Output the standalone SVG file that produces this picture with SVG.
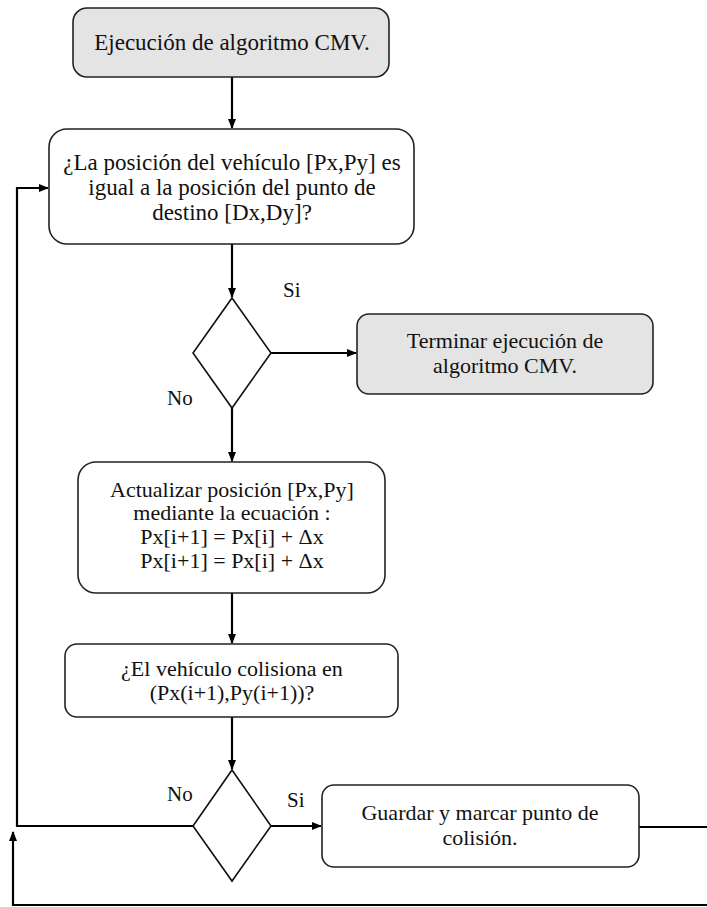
<svg xmlns="http://www.w3.org/2000/svg" width="707" height="907" viewBox="0 0 707 907">
<defs>
<marker id="ah" markerWidth="10" markerHeight="10" refX="9" refY="5" orient="auto" markerUnits="userSpaceOnUse">
<path d="M0,1 L10,5 L0,9 Z" fill="#000"/>
</marker>
<style>
.box{fill:#fff;stroke:#222;stroke-width:1.6}
.grey{fill:#e4e4e4}
.dia{fill:#fff;stroke:#111;stroke-width:1.6}
.t{font-size:22px;fill:#111;text-anchor:middle}
.big{font-size:23px}
.lbl{font-size:21px;fill:#111}
.c{fill:none;stroke:#000;stroke-width:2.2}
</style>
</defs>
<rect width="707" height="907" fill="#fff"/>
<g id="connectors">
<path class="c" d="M232,77 V128" marker-end="url(#ah)"/>
<path class="c" d="M232,244 V297" marker-end="url(#ah)"/>
<path class="c" d="M271,353 H356" marker-end="url(#ah)"/>
<path class="c" d="M232,408 V461" marker-end="url(#ah)"/>
<path class="c" d="M232,593 V643" marker-end="url(#ah)"/>
<path class="c" d="M232,717 V769" marker-end="url(#ah)"/>
<path class="c" d="M271,826 H321" marker-end="url(#ah)"/>
<path class="c" d="M193,826 H17 V188 H48" marker-end="url(#ah)"/>
<path class="c" d="M639,827 H707"/>
<path class="c" d="M707,905 H13 V832" marker-end="url(#ah)"/>
</g>
<g font-family="'Liberation Serif', 'DejaVu Serif', serif">
<g id="n1">
<rect class="box grey" x="73" y="8" width="316" height="69" rx="14"/>
<text class="t big" x="232" y="50">Ejecución de algoritmo CMV.</text>
</g>
<g id="n2">
<rect class="box" x="49" y="129" width="365" height="115" rx="18"/>
<text class="t big" x="232" y="170">¿La posición del vehículo [Px,Py] es</text>
<text class="t big" x="232" y="195">igual a la posición del punto de</text>
<text class="t big" x="232" y="220">destino [Dx,Dy]?</text>
</g>
<g id="d1">
<polygon class="dia" points="232,298 271,353 232,408 193,353"/>
<text class="lbl" x="283" y="297">Si</text>
<text class="lbl" x="167" y="405">No</text>
</g>
<g id="n3">
<rect class="box grey" x="357" y="314" width="296" height="80" rx="12"/>
<text class="t" x="505" y="348">Terminar ejecución de</text>
<text class="t" x="505" y="373">algoritmo CMV.</text>
</g>
<g id="n4">
<rect class="box" x="78" y="462" width="307" height="131" rx="18"/>
<text class="t" x="232" y="497">Actualizar posición [Px,Py]</text>
<text class="t" x="232" y="520">mediante la ecuación :</text>
<text class="t" x="232" y="544">Px[i+1] = Px[i] + Δx</text>
<text class="t" x="232" y="568">Px[i+1] = Px[i] + Δx</text>
</g>
<g id="n5">
<rect class="box" x="65" y="644" width="333" height="73" rx="12"/>
<text class="t" x="232" y="676">¿El vehículo colisiona en</text>
<text class="t" x="232" y="700">(Px(i+1),Py(i+1))?</text>
</g>
<g id="d2">
<polygon class="dia" points="232,770 271,826 232,881 193,826"/>
<text class="lbl" x="167" y="801">No</text>
<text class="lbl" x="287" y="807">Si</text>
</g>
<g id="n6">
<rect class="box" x="322" y="785" width="317" height="82" rx="12"/>
<text class="t" x="480" y="820">Guardar y marcar punto de</text>
<text class="t" x="480" y="845">colisión.</text>
</g>
</g>
</svg>
